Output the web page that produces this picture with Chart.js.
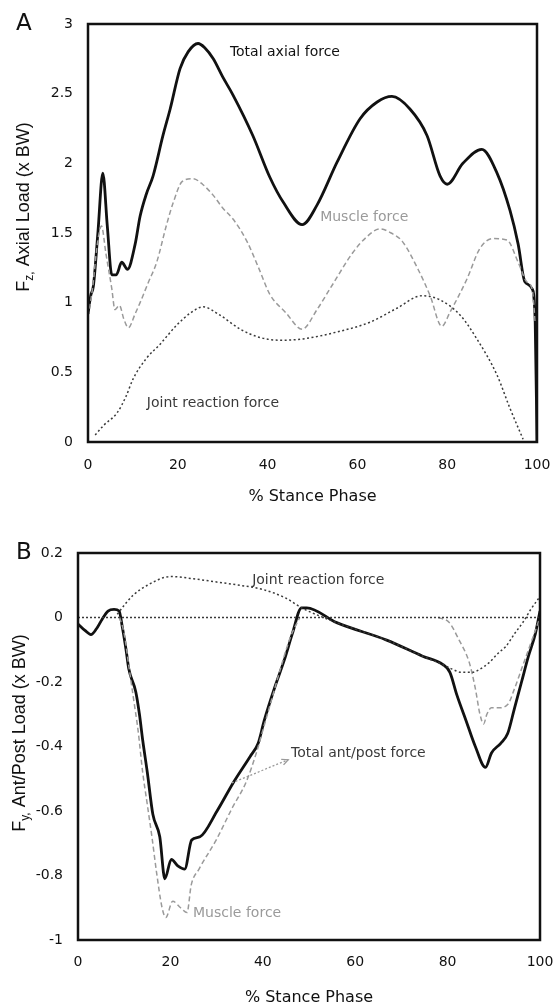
<!DOCTYPE html>
<html lang="en">
<head>
    <meta charset="UTF-8">
    <title>Axial and Ant/Post Load</title>
    <script src="https://cdn.jsdelivr.net/npm/chart.js@4.4.1/dist/chart.umd.min.js"></script>
    <style>
        body {
            margin: 0;
            background: #ffffff;
            width: 558px;
            height: 1007px;
            overflow: hidden;
        }
        .panel {
            position: absolute;
            left: 0;
        }
    </style>
</head>
<body>
    <div class="panel" style="top:0"><canvas id="chartA" width="558" height="505"></canvas></div>
    <div class="panel" style="top:505px"><canvas id="chartB" width="558" height="502"></canvas></div>

    <script>
        // ---- shared axis ----
        const stanceTicks = [0, 20, 40, 60, 80, 100];
        const stanceLabels = ['0', '20', '40', '60', '80', '100'];

        // ---- panel A: axial load (x BW) ----
        const axialTicks = [0, 0.5, 1, 1.5, 2, 2.5, 3];
        const axialLabels = ['0', '0.5', '1', '1.5', '2', '2.5', '3'];

        const totalAxialX = [0, 0.6, 1.2, 2.2, 3.3, 4.3, 5.3, 6.3, 7.5, 8.8, 10.5, 11.6, 13, 14.5, 16.7, 18.3, 20.5, 22.3, 24.5, 26, 27.9, 30, 32.3, 36.7, 40.5, 43.5, 47.7, 51, 55.5, 60.6, 64.4, 67.7, 71.7, 75.5, 78.4, 80, 83.5, 87.7, 91.1, 94, 95.8, 97.3, 98.9, 99.6, 100];
        const totalAxialY = [0.92, 1.05, 1.12, 1.5, 1.93, 1.55, 1.2, 1.2, 1.29, 1.24, 1.42, 1.62, 1.78, 1.91, 2.2, 2.39, 2.68, 2.8, 2.86, 2.83, 2.75, 2.62, 2.49, 2.2, 1.9, 1.72, 1.56, 1.7, 2.01, 2.32, 2.44, 2.48, 2.39, 2.2, 1.91, 1.85, 2.0, 2.1, 1.93, 1.66, 1.42, 1.15, 1.1, 0.86, 0];

        const muscleAxialX = [0, 1, 2, 3, 4, 5.3, 6, 7, 8, 9, 10.5, 11.6, 13.5, 15.3, 17.5, 19, 21, 23.4, 25.5, 27.9, 30, 32.3, 35.4, 38, 40.5, 44, 47.7, 51, 53.9, 59, 62, 65, 67.5, 70, 73.5, 76.2, 78.8, 80.6, 84.4, 87.3, 90.2, 93.3, 95.8, 97.7, 98.9, 99.6];
        const muscleAxialY = [0.9, 1.1, 1.4, 1.55, 1.35, 1.1, 0.95, 0.98, 0.88, 0.82, 0.92, 1.0, 1.15, 1.29, 1.56, 1.72, 1.87, 1.89, 1.85, 1.77, 1.68, 1.6, 1.44, 1.25, 1.06, 0.93, 0.81, 0.95, 1.1, 1.36, 1.47, 1.53, 1.5, 1.44, 1.24, 1.05, 0.83, 0.93, 1.17, 1.39, 1.46, 1.45, 1.29, 1.15, 1.1, 0.86];

        const jointAxialX = [1.6, 3.5, 6.5, 8.5, 10, 13, 16, 19.8, 23, 25.6, 29.4, 33.9, 38.3, 43, 47.9, 55.5, 62.8, 68.8, 74.4, 78.4, 82.9, 86.6, 91.1, 94, 96.9];
        const jointAxialY = [0.05, 0.12, 0.21, 0.33, 0.45, 0.6, 0.7, 0.84, 0.93, 0.97, 0.91, 0.81, 0.75, 0.73, 0.74, 0.79, 0.86, 0.96, 1.05, 1.02, 0.91, 0.74, 0.48, 0.24, 0.02];

        // ---- panel B: ant/post load (x BW) ----
        const apTicks = [-1, -0.8, -0.6, -0.4, -0.2, 0, 0.2];
        const apLabels = ['-1', '-0.8', '-0.6', '-0.4', '-0.2', '0', '0.2'];

        const totalApX = [0, 1.5, 2.8, 4, 5.2, 6.5, 7.8, 8.9, 9.6, 10.4, 11, 12.5, 13.3, 14, 15, 16.2, 17.7, 18.8, 20.2, 21.6, 23.1, 24.6, 26.4, 30.1, 33.7, 37.3, 39, 40.3, 42.5, 44.7, 46.4, 48.4, 49.5, 56, 66.8, 74.6, 79, 80.5, 82, 84, 86, 88.2, 89.5, 91.5, 93, 94.5, 96, 97.5, 99, 100];
        const totalApY = [-0.02, -0.04, -0.053, -0.035, -0.006, 0.02, 0.025, 0.02, -0.03, -0.1, -0.16, -0.23, -0.3, -0.38, -0.48, -0.61, -0.68, -0.81, -0.75, -0.77, -0.78, -0.69, -0.68, -0.6, -0.51, -0.43, -0.39, -0.32, -0.22, -0.13, -0.05, 0.03, 0.03, -0.016, -0.07, -0.12, -0.146, -0.17, -0.24, -0.32, -0.4, -0.465, -0.42, -0.39, -0.36, -0.28, -0.2, -0.12, -0.05, 0.02];

        const muscleApX = [9, 10, 11, 12, 13, 14, 15, 16, 17, 18.2, 19, 20.5, 22.2, 23.6, 24.5, 26.2, 29.9, 33.4, 36.4, 38.6, 40, 42, 44, 46, 48, 63, 78, 80.3, 82.5, 84.7, 86, 87, 87.8, 88.5, 89.5, 91, 93, 94.5, 96, 97.5, 99, 100];
        const muscleApY = [0.0, -0.05, -0.15, -0.25, -0.35, -0.48, -0.58, -0.68, -0.79, -0.9, -0.93, -0.88, -0.9, -0.915, -0.83, -0.78, -0.69, -0.59, -0.51, -0.42, -0.35, -0.25, -0.15, -0.06, 0.0, null, 0.0, -0.015, -0.07, -0.14, -0.22, -0.3, -0.33, -0.3, -0.28, -0.28, -0.27, -0.22, -0.16, -0.1, -0.04, 0.0];

        const jointApX = [8.5, 10.4, 12, 15, 20, 25, 30, 35, 40, 45, 48.4, 56, 66.8, 74.6, 79, 81, 83, 85.4, 87, 89, 91, 92.6, 94.5, 96.3, 98, 100];
        const jointApY = [0.01, 0.045, 0.07, 0.1, 0.127, 0.12, 0.11, 0.1, 0.087, 0.06, 0.03, -0.016, -0.07, -0.12, -0.146, -0.16, -0.17, -0.17, -0.16, -0.14, -0.11, -0.09, -0.05, -0.015, 0.025, 0.065];

        const zeroLineX = [0, 100];
        const zeroLineY = [0, 0];

        const inkColor = '#111111';
        const muscleColor = '#9a9a9a';
        const jointColor = '#3a3a3a';
        const tickFont = { family: 'DejaVu Sans', size: 14 };
        const noteFont = '14px "DejaVu Sans"';

        function toPoints(xs, ys) {
            return xs.map((x, i) => ({ x: x, y: ys[i] }));
        }

        // frame, panel letter, rotated y title with subscript, and text notes
        const decorPlugin = {
            id: 'decor',
            afterDatasetsDraw(chart, args, opts) {
                const ctx = chart.ctx;
                const area = chart.chartArea;
                const xs = chart.scales.x;
                const ys = chart.scales.y;
                ctx.save();

                // plot frame
                ctx.strokeStyle = inkColor;
                ctx.lineWidth = 2.5;
                ctx.strokeRect(area.left, area.top, area.right - area.left, area.bottom - area.top);

                // panel letter
                ctx.fillStyle = inkColor;
                ctx.font = '23px "DejaVu Sans"';
                ctx.textAlign = 'left';
                ctx.textBaseline = 'middle';
                ctx.fillText(opts.letter, 16, opts.letterY);

                // y title: F + subscript + rest, rotated
                const mainFont = '18px "Liberation Sans"';
                const subFont = '12px "Liberation Sans"';
                ctx.font = mainFont;
                const wF = ctx.measureText('F').width;
                const wRest = ctx.measureText(opts.yRest).width;
                ctx.font = subFont;
                const wSub = ctx.measureText(opts.ySub).width;
                const total = wF + wSub + wRest;
                ctx.translate(opts.yTitleX, opts.yTitleY);
                ctx.rotate(-Math.PI / 2);
                ctx.textBaseline = 'alphabetic';
                let cx = -total / 2;
                ctx.font = mainFont;
                ctx.fillText('F', cx, 6);
                cx += wF;
                ctx.font = subFont;
                ctx.fillText(opts.ySub, cx, 10);
                cx += wSub;
                ctx.font = mainFont;
                ctx.fillText(opts.yRest, cx, 6);
                ctx.setTransform(1, 0, 0, 1, 0, 0);

                // arrow (annotation leader)
                if (opts.arrow) {
                    const a = opts.arrow;
                    const x1 = xs.getPixelForValue(a.from[0]);
                    const y1 = ys.getPixelForValue(a.from[1]);
                    const x2 = xs.getPixelForValue(a.to[0]);
                    const y2 = ys.getPixelForValue(a.to[1]);
                    ctx.strokeStyle = muscleColor;
                    ctx.lineWidth = 1.3;
                    ctx.setLineDash([2, 2]);
                    ctx.beginPath();
                    ctx.moveTo(x1, y1);
                    ctx.lineTo(x2, y2);
                    ctx.stroke();
                    ctx.setLineDash([]);
                    const ang = Math.atan2(y2 - y1, x2 - x1);
                    ctx.beginPath();
                    ctx.moveTo(x2 - 7 * Math.cos(ang - 0.45), y2 - 7 * Math.sin(ang - 0.45));
                    ctx.lineTo(x2, y2);
                    ctx.lineTo(x2 - 7 * Math.cos(ang + 0.45), y2 - 7 * Math.sin(ang + 0.45));
                    ctx.stroke();
                }

                // notes
                ctx.font = noteFont;
                ctx.textAlign = 'left';
                ctx.textBaseline = 'middle';
                opts.notes.forEach(n => {
                    ctx.fillStyle = n.color;
                    ctx.fillText(n.text, xs.getPixelForValue(n.x), ys.getPixelForValue(n.y));
                });
                ctx.restore();
            }
        };

        function makeChart(canvasId, cfg) {
            return new Chart(document.getElementById(canvasId), {
                type: 'line',
                data: { datasets: cfg.datasets },
                options: {
                    responsive: false,
                    animation: false,
                    events: [],
                    layout: { padding: { top: cfg.padTop, right: cfg.padRight, left: 0, bottom: 0 } },
                    elements: { point: { radius: 0 } },
                    plugins: {
                        legend: { display: false },
                        tooltip: { enabled: false },
                        decor: cfg.decor
                    },
                    scales: {
                        x: {
                            type: 'linear',
                            min: 0,
                            max: 100,
                            afterBuildTicks: s => { s.ticks = stanceTicks.map(v => ({ value: v })); },
                            afterFit: s => {
                                s.height = cfg.xHeight;
                                s.paddingLeft = 0;
                                s.paddingRight = 0;
                            },
                            grid: { display: false, drawTicks: false },
                            border: { display: false },
                            ticks: {
                                color: inkColor,
                                font: tickFont,
                                padding: cfg.xTickPad,
                                maxRotation: 0,
                                callback: (v, i) => stanceLabels[i]
                            },
                            title: {
                                display: true,
                                text: '% Stance Phase',
                                color: inkColor,
                                font: { family: 'DejaVu Sans', size: 16, lineHeight: 1 },
                                padding: { top: 0, bottom: cfg.xTitlePad }
                            }
                        },
                        y: {
                            type: 'linear',
                            min: cfg.yMin,
                            max: cfg.yMax,
                            afterBuildTicks: s => { s.ticks = cfg.yTicks.map(v => ({ value: v })); },
                            afterFit: s => {
                                s.width = cfg.yWidth;
                                s.paddingTop = 0;
                                s.paddingBottom = 0;
                            },
                            grid: { display: false, drawTicks: false },
                            border: { display: false },
                            ticks: {
                                color: inkColor,
                                font: tickFont,
                                padding: 15,
                                callback: (v, i) => cfg.yLabels[i]
                            }
                        }
                    }
                },
                plugins: [decorPlugin]
            });
        }

        const solidStyle = { borderColor: inkColor, borderWidth: 2.8, cubicInterpolationMode: 'monotone', fill: false };
        const muscleStyle = { borderColor: muscleColor, borderWidth: 1.5, borderDash: [5, 3], cubicInterpolationMode: 'monotone', fill: false, spanGaps: false };
        const jointStyle = { borderColor: jointColor, borderWidth: 1.5, borderDash: [2, 2.5], cubicInterpolationMode: 'monotone', fill: false };

        makeChart('chartA', {
            padTop: 24, padRight: 21, yWidth: 88, xHeight: 63, xTickPad: 15, xTitlePad: 0,
            yMin: 0, yMax: 3, yTicks: axialTicks, yLabels: axialLabels,
            datasets: [
                Object.assign({ label: 'Joint reaction force', data: toPoints(jointAxialX, jointAxialY) }, jointStyle),
                Object.assign({ label: 'Muscle force', data: toPoints(muscleAxialX, muscleAxialY) }, muscleStyle),
                Object.assign({ label: 'Total axial force', data: toPoints(totalAxialX, totalAxialY) }, solidStyle)
            ],
            decor: {
                letter: 'A', letterY: 24,
                ySub: 'z,', yRest: ' Axial Load (x BW)', yTitleX: 23, yTitleY: 207,
                notes: [
                    { text: 'Total axial force', x: 31.6, y: 2.8, color: inkColor },
                    { text: 'Muscle force', x: 51.7, y: 1.615, color: muscleColor },
                    { text: 'Joint reaction force', x: 13.1, y: 0.28, color: jointColor }
                ]
            }
        });

        makeChart('chartB', {
            padTop: 48, padRight: 18, yWidth: 78, xHeight: 67, xTickPad: 14, xTitlePad: 1,
            yMin: -1, yMax: 0.2, yTicks: apTicks, yLabels: apLabels,
            datasets: [
                Object.assign({ label: 'Zero', data: toPoints(zeroLineX, zeroLineY) }, jointStyle, { borderWidth: 1.3, borderDash: [2, 2] }),
                Object.assign({ label: 'Joint reaction force', data: toPoints(jointApX, jointApY) }, jointStyle),
                Object.assign({ label: 'Muscle force', data: toPoints(muscleApX, muscleApY) }, muscleStyle),
                Object.assign({ label: 'Total ant/post force', data: toPoints(totalApX, totalApY) }, solidStyle)
            ],
            decor: {
                letter: 'B', letterY: 48,
                ySub: 'y,', yRest: ' Ant/Post Load (x BW)', yTitleX: 19, yTitleY: 228,
                arrow: { from: [33.3, -0.513], to: [45.5, -0.441] },
                notes: [
                    { text: 'Joint reaction force', x: 37.7, y: 0.116, color: jointColor },
                    { text: 'Total ant/post force', x: 46.1, y: -0.42, color: jointColor },
                    { text: 'Muscle force', x: 24.9, y: -0.916, color: muscleColor }
                ]
            }
        });
    </script>
</body>
</html>
